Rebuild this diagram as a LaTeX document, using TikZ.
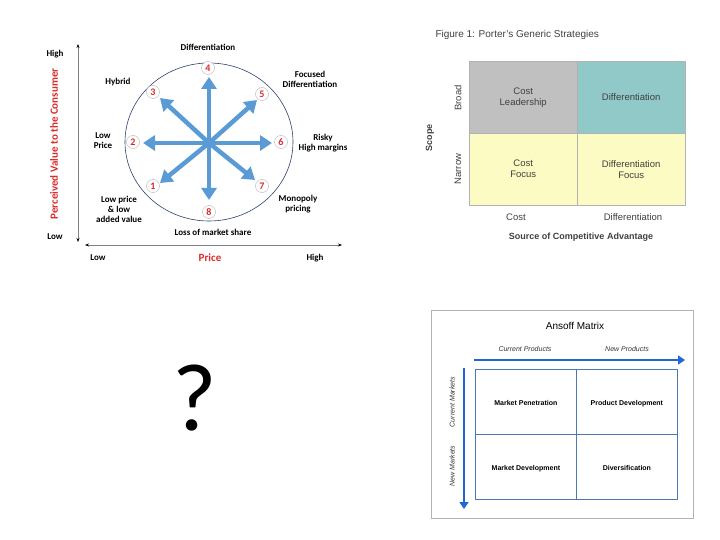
\documentclass[tikz,border=0pt]{standalone}
\usepackage{fontspec}
\setmainfont{Liberation Sans}
\newfontfamily\calib{Carlito}
\usetikzlibrary{arrows.meta}
\definecolor{clockblue}{HTML}{5B9BD5}
\definecolor{clockred}{HTML}{DA2A2A}
\definecolor{ringblue}{HTML}{2F3F6F}
\definecolor{cellgray}{HTML}{C0C0C0}
\definecolor{cellteal}{HTML}{91C8C8}
\definecolor{cellyellow}{HTML}{FDFBC4}
\definecolor{ansblue}{HTML}{1F66D6}
\definecolor{gridblue}{HTML}{4A78B0}
\begin{document}
\begin{tikzpicture}[x=1pt,y=-1pt,line join=round,>=stealth,
    lbl/.style={font=\calib\bfseries\fontsize{9}{10}\selectfont,align=center},
    num/.style={circle,draw=gray!60,fill=white,text=clockred,inner sep=0pt,minimum size=13pt,font=\calib\bfseries\fontsize{10}{10}\selectfont},
    spoke/.style={clockblue,line width=4.5pt,-{Triangle[length=12pt,width=15pt]}},
    axis/.style={gray,line width=0.6pt,{Stealth[black,length=4pt,width=3pt]}-{Stealth[black,length=4pt,width=3pt]}},
    cell/.style={draw=gray!60,minimum width=108pt,minimum height=72pt,anchor=north west,text=black!75,align=center,font=\fontsize{9.5}{11}\selectfont},
    plbl/.style={text=black!75,font=\fontsize{9.5}{11}\selectfont},
    acell/.style={draw=gridblue,line width=0.8pt,minimum width=101pt,minimum height=65pt,anchor=north west,text height=1.6ex,text depth=0.4ex,font=\bfseries\fontsize{7}{8}\selectfont},
    alab/.style={text=black!80,font=\itshape\fontsize{7}{8}\selectfont},
    aarrow/.style={ansblue,line width=2.5pt,-{Triangle[length=7pt,width=9pt]}}]
\useasboundingbox (0,0) rectangle (720,540);
% strategy clock
\coordinate (yTop) at (78,44);
\coordinate (yBot) at (78,242);
\coordinate (xLeft) at (85,245);
\coordinate (xRight) at (342,245);
\draw[axis] (yBot) -- (yTop);
\draw[axis] (xLeft) -- (xRight);
\node[lbl] (hiV) at (55,54) {High};
\node[lbl] (loV) at (55,237) {Low};
\node[lbl,text=clockred,rotate=90,font=\calib\bfseries\fontsize{11}{12}\selectfont] (value) at (54,144) {Perceived Value to the Consumer};
\node[lbl] (loP) at (98,258) {Low};
\node[lbl,text=clockred,font=\calib\bfseries\fontsize{11}{12}\selectfont] (price) at (210,258) {Price};
\node[lbl] (hiP) at (315,258) {High};
\draw[ringblue,line width=0.6pt] (209,142) ellipse [x radius=84,y radius=79];
\coordinate (ctr) at (209,143);
\coordinate (e1) at (160,183);
\coordinate (e2) at (143,143);
\coordinate (e3) at (160,98);
\coordinate (e4) at (209,77);
\coordinate (e5) at (257,100);
\coordinate (e6) at (272,143);
\coordinate (e7) at (255,180);
\coordinate (e8) at (209,200);
\foreach \i in {1,...,8}
  \draw[spoke] (ctr) -- (e\i);
\node[num] (n1) at (153,186) {1};
\node[num] (n2) at (133,142) {2};
\node[num] (n3) at (153,92) {3};
\node[num] (n4) at (208,68) {4};
\node[num] (n5) at (262,94) {5};
\node[num] (n6) at (281,142) {6};
\node[num] (n7) at (262,186) {7};
\node[num] (n8) at (209,212) {8};
\node[lbl] (s4) at (208,47) {Differentiation};
\node[lbl] (s3) at (118,82) {Hybrid};
\node[lbl] (s5) at (310,79) {Focused\\Differentiation};
\node[lbl] (s2) at (103,141) {Low\\Price};
\node[lbl] (s6) at (323,143) {Risky\\High margins};
\node[lbl] (s1) at (119,209) {Low price\\\& low\\added value};
\node[lbl] (s7) at (298,204) {Monopoly\\pricing};
\node[lbl] (s8) at (213,232) {Loss of market share};
\node[font=\calib\fontsize{96}{96}\selectfont,anchor=base] (q) at (195,430) {?};
% generic strategies
\node[plbl,anchor=west,font=\fontsize{10}{11}\selectfont] (title) at (432,35) {Figure 1: Porter's Generic Strategies};
\node[cell,fill=cellgray] (cl) at (469,61) {Cost\\Leadership};
\node[cell,fill=cellteal] (df) at (577,61) {Differentiation};
\node[cell,fill=cellyellow] (cf) at (469,133) {Cost\\Focus};
\node[cell,fill=cellyellow] (dff) at (577,133) {Differentiation\\Focus};
\node[plbl,rotate=90] (broad) at (458,98) {Broad};
\node[plbl,rotate=90] (narrow) at (458,169) {Narrow};
\node[plbl,rotate=90,font=\bfseries\fontsize{9}{10}\selectfont] (scope) at (430,138) {Scope};
\node[plbl] (cost) at (516,217) {Cost};
\node[plbl] (diff) at (633,217) {Differentiation};
\node[plbl,font=\bfseries\fontsize{9}{10}\selectfont] (source) at (581,237) {Source of Competitive Advantage};
% ansoff matrix
\draw[gray!60,line width=0.8pt] (431,310) rectangle (693,518);
\node[font=\fontsize{10}{11}\selectfont] (ansoff) at (575,326) {Ansoff Matrix};
\node[alab] (cp) at (525,349) {Current Products};
\node[alab] (np) at (627,349) {New Products};
\node[acell] (mp) at (475,369) {Market Penetration};
\node[acell] (pd) at (576,369) {Product Development};
\node[acell] (md) at (475,434) {Market Development};
\node[acell] (dv) at (576,434) {Diversification};
\coordinate (hA) at (474,360);
\coordinate (hB) at (685,360);
\coordinate (vA) at (464,368);
\coordinate (vB) at (464,509);
\draw[aarrow] (hA) -- (hB);
\draw[aarrow] (vA) -- (vB);
\node[alab,rotate=90] (cm) at (452,402) {Current Markets};
\node[alab,rotate=90] (nm) at (452,466) {New Markets};
\end{tikzpicture}
\end{document}
